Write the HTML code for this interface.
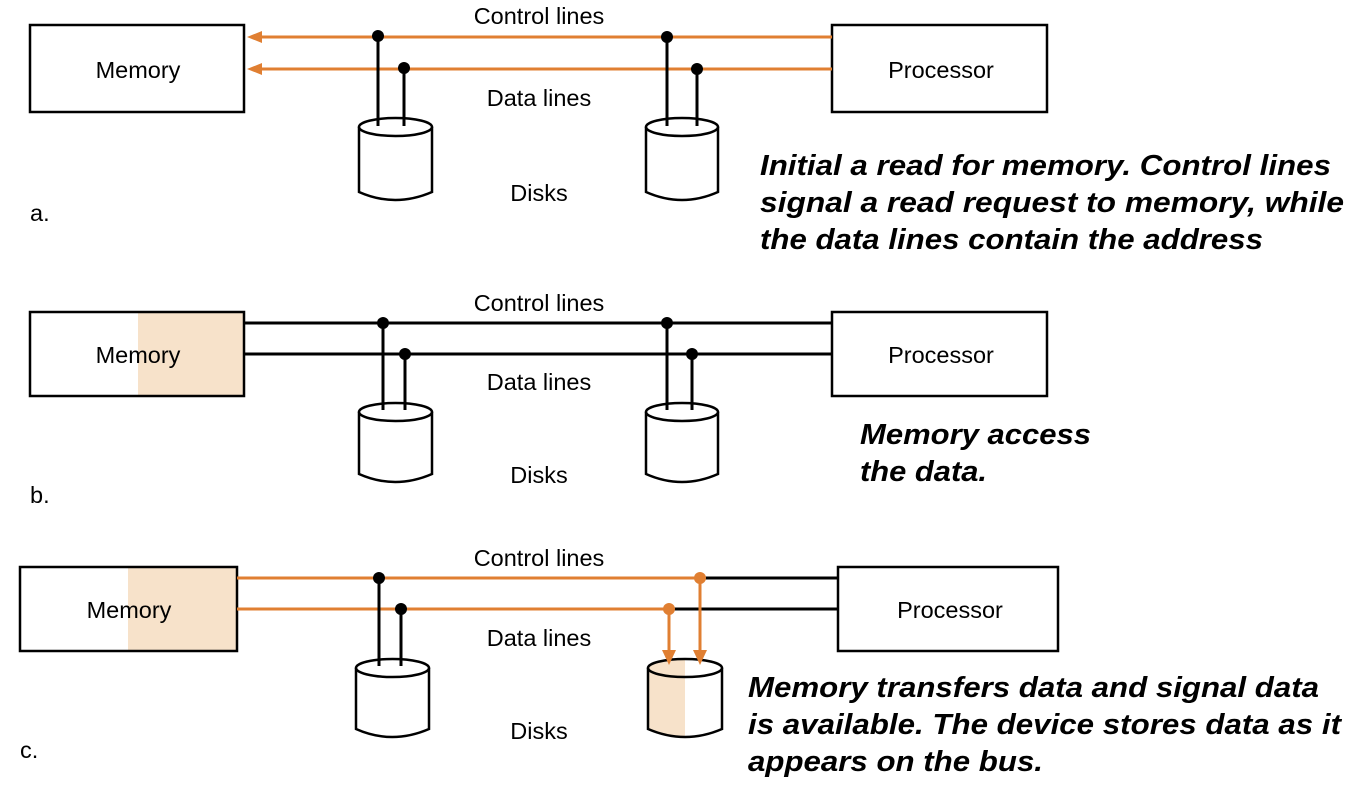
<!DOCTYPE html>
<html><head><meta charset="utf-8"><style>
html,body{margin:0;padding:0;background:#fff}
svg{display:block}
text{font-family:"Liberation Sans",Arial,sans-serif}
.l{font-size:23.5px;fill:#000}
.t{font-size:29px;font-weight:bold;font-style:italic;fill:#000}
</style></head><body>
<svg width="1351" height="795" viewBox="0 0 1351 795" xmlns="http://www.w3.org/2000/svg">
<g stroke="#000" stroke-width="2.5" fill="none">
<rect x="30" y="25" width="214" height="87" fill="#fff"/>
<rect x="832" y="25" width="215" height="87" fill="#fff"/>
</g>
<g stroke="#e07f32" stroke-width="3">
<line x1="832" y1="37" x2="258" y2="37"/>
<line x1="832" y1="69" x2="258" y2="69"/>
</g>
<path d="M247,37 L262,31 L262,43 Z M247,69 L262,63 L262,75 Z" fill="#e07f32"/>
<g stroke="#000" stroke-width="3">
<line x1="378" y1="36" x2="378" y2="126"/><line x1="404" y1="68" x2="404" y2="126"/>
<line x1="667" y1="37" x2="667" y2="126"/><line x1="697" y1="69" x2="697" y2="126"/>
</g>
<g fill="#000"><circle cx="378" cy="36" r="6"/><circle cx="404" cy="68" r="6"/><circle cx="667" cy="37" r="6"/><circle cx="697" cy="69" r="6"/></g>
<g stroke="#000" stroke-width="2.5" fill="#fff">
<path d="M359,127 L359,192 Q395,208 432,192 L432,127"/><ellipse cx="395.5" cy="127" rx="36.5" ry="9" fill="none"/>
<path d="M646,127 L646,192 Q682,208 718,192 L718,127"/><ellipse cx="682" cy="127" rx="36" ry="9" fill="none"/>
</g>
<text class="l" x="138" y="78" text-anchor="middle">Memory</text>
<text class="l" x="941" y="78" text-anchor="middle">Processor</text>
<text class="l" x="539" y="24" text-anchor="middle">Control lines</text>
<text class="l" x="539" y="106" text-anchor="middle">Data lines</text>
<text class="l" x="539" y="201" text-anchor="middle">Disks</text>
<text class="l" x="30" y="221">a.</text>
<text class="t" x="760" y="175" textLength="571" lengthAdjust="spacingAndGlyphs">Initial a read for memory. Control lines</text>
<text class="t" x="760" y="212" textLength="584" lengthAdjust="spacingAndGlyphs">signal a read request  to memory, while</text>
<text class="t" x="760" y="249" textLength="503" lengthAdjust="spacingAndGlyphs">the data lines contain the address</text>

<rect x="138" y="312" width="106" height="84" fill="#f7e2ca"/>
<g stroke="#000" stroke-width="2.5" fill="none">
<rect x="30" y="312" width="214" height="84"/>
<rect x="832" y="312" width="215" height="84" fill="#fff"/>
</g>
<g stroke="#000" stroke-width="3">
<line x1="244" y1="323" x2="832" y2="323"/><line x1="244" y1="354" x2="832" y2="354"/>
<line x1="383" y1="323" x2="383" y2="410"/><line x1="405" y1="354" x2="405" y2="410"/>
<line x1="667" y1="323" x2="667" y2="410"/><line x1="692" y1="354" x2="692" y2="410"/>
</g>
<g fill="#000"><circle cx="383" cy="323" r="6"/><circle cx="405" cy="354" r="6"/><circle cx="667" cy="323" r="6"/><circle cx="692" cy="354" r="6"/></g>
<g stroke="#000" stroke-width="2.5" fill="#fff">
<path d="M359,412 L359,474 Q395,490 432,474 L432,412"/><ellipse cx="395.5" cy="412" rx="36.5" ry="9" fill="none"/>
<path d="M646,412 L646,474 Q682,490 718,474 L718,412"/><ellipse cx="682" cy="412" rx="36" ry="9" fill="none"/>
</g>
<text class="l" x="138" y="363" text-anchor="middle">Memory</text>
<text class="l" x="941" y="363" text-anchor="middle">Processor</text>
<text class="l" x="539" y="311" text-anchor="middle">Control lines</text>
<text class="l" x="539" y="390" text-anchor="middle">Data lines</text>
<text class="l" x="539" y="483" text-anchor="middle">Disks</text>
<text class="l" x="30" y="503">b.</text>
<text class="t" x="860" y="444" textLength="231" lengthAdjust="spacingAndGlyphs">Memory access</text>
<text class="t" x="860" y="481" textLength="127" lengthAdjust="spacingAndGlyphs">the data.</text>

<rect x="128" y="567" width="109" height="84" fill="#f7e2ca"/>
<g stroke="#000" stroke-width="2.5" fill="none">
<rect x="20" y="567" width="217" height="84"/>
<rect x="838" y="567" width="220" height="84" fill="#fff"/>
</g>
<g stroke-width="3">
<line x1="237" y1="578" x2="700" y2="578" stroke="#e07f32"/>
<line x1="700" y1="578" x2="838" y2="578" stroke="#000"/>
<line x1="237" y1="609" x2="669" y2="609" stroke="#e07f32"/>
<line x1="669" y1="609" x2="838" y2="609" stroke="#000"/>
<line x1="379" y1="578" x2="379" y2="666" stroke="#000"/>
<line x1="401" y1="609" x2="401" y2="666" stroke="#000"/>
</g>
<g fill="#000"><circle cx="379" cy="578" r="6"/><circle cx="401" cy="609" r="6"/></g>
<g stroke="#000" stroke-width="2.5" fill="#fff">
<path d="M356,668 L356,729 Q392,745 429,729 L429,668"/><ellipse cx="392.5" cy="668" rx="36.5" ry="9" fill="none"/>
</g>
<path d="M648,668 L648,729 Q666,737 685,738 L685,659 Q655,660 648,668 Z" fill="#f7e2ca"/>
<g stroke="#000" stroke-width="2.5" fill="none">
<path d="M648,668 L648,729 Q685,745 722,729 L722,668"/><ellipse cx="685" cy="668" rx="37" ry="9"/>
</g>
<g stroke="#e07f32" stroke-width="3">
<line x1="700" y1="578" x2="700" y2="652"/><line x1="669" y1="609" x2="669" y2="652"/>
</g>
<path d="M662,650 L676,650 L669,665 Z M693,650 L707,650 L700,665 Z" fill="#e07f32"/>
<g fill="#e07f32"><circle cx="700" cy="578" r="6"/><circle cx="669" cy="609" r="6"/></g>
<text class="l" x="129" y="618" text-anchor="middle">Memory</text>
<text class="l" x="950" y="618" text-anchor="middle">Processor</text>
<text class="l" x="539" y="566" text-anchor="middle">Control lines</text>
<text class="l" x="539" y="646" text-anchor="middle">Data lines</text>
<text class="l" x="539" y="739" text-anchor="middle">Disks</text>
<text class="l" x="20" y="758">c.</text>
<text class="t" x="748" y="697" textLength="571" lengthAdjust="spacingAndGlyphs">Memory transfers data and signal data</text>
<text class="t" x="748" y="734" textLength="593" lengthAdjust="spacingAndGlyphs">is available. The device stores data as it</text>
<text class="t" x="748" y="771" textLength="295" lengthAdjust="spacingAndGlyphs">appears on the bus.</text>
</svg>
</body></html>
